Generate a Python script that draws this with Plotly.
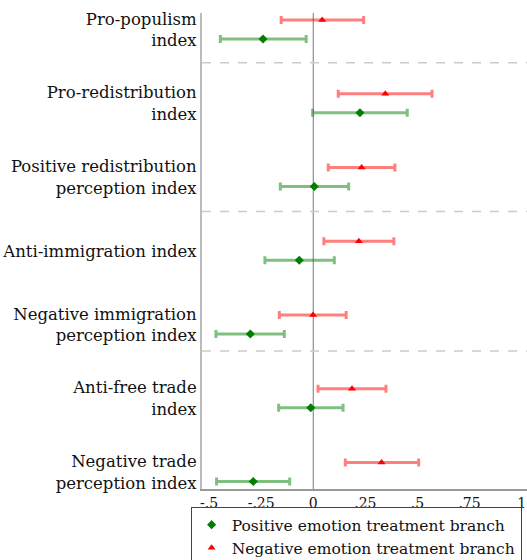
import plotly.graph_objects as go

categories = [
    "Pro-populism<br>index",
    "Pro-redistribution<br>index",
    "Positive redistribution<br>perception index",
    "Anti-immigration index",
    "Negative immigration<br>perception index",
    "Anti-free trade<br>index",
    "Negative trade<br>perception index",
]

neg_est = [0.043, 0.346, 0.232, 0.219, -0.001, 0.186, 0.328]
neg_lo = [-0.154, 0.120, 0.072, 0.051, -0.163, 0.023, 0.154]
neg_hi = [0.242, 0.570, 0.392, 0.387, 0.158, 0.349, 0.506]

pos_est = [-0.241, 0.224, 0.005, -0.067, -0.302, -0.012, -0.288]
pos_lo = [-0.446, -0.003, -0.158, -0.232, -0.467, -0.166, -0.464]
pos_hi = [-0.034, 0.451, 0.170, 0.101, -0.139, 0.143, -0.113]

x_ticks = [-0.5, -0.25, 0, 0.25, 0.5, 0.75, 1]
x_ticklabels = ["-.5", "-.25", "0", ".25", ".5", ".75", "1"]

FONT = "DejaVu Serif"
idx = list(range(1, len(categories) + 1))
off = 0.129

fig = go.Figure()
fig.add_trace(go.Scatter(
    x=pos_est, y=[i + off for i in idx], mode="markers",
    name="Positive emotion treatment branch",
    marker=dict(symbol="diamond", color="#007f00", size=7),
    error_x=dict(type="data", symmetric=False,
                 array=[h - e for h, e in zip(pos_hi, pos_est)],
                 arrayminus=[e - l for e, l in zip(pos_est, pos_lo)],
                 color="rgba(0,128,0,0.5)", thickness=3, width=4),
))
fig.add_trace(go.Scatter(
    x=neg_est, y=[i - off for i in idx], mode="markers",
    name="Negative emotion treatment branch",
    marker=dict(symbol="triangle-up", color="#ff0000", size=7),
    error_x=dict(type="data", symmetric=False,
                 array=[h - e for h, e in zip(neg_hi, neg_est)],
                 arrayminus=[e - l for e, l in zip(neg_est, neg_lo)],
                 color="rgba(255,0,0,0.5)", thickness=3, width=4),
))

shapes = [dict(type="line", xref="x", yref="paper", x0=0, x1=0, y0=0, y1=1,
               line=dict(color="#777777", width=1), layer="below")]
for ysep in [1.45, 3.467, 5.358]:
    shapes.append(dict(type="line", xref="paper", yref="y", x0=0, x1=1, y0=ysep, y1=ysep,
                       line=dict(color="#cccccc", width=1.5, dash="dash"), layer="below"))

fig.update_layout(
    width=527, height=560,
    margin=dict(l=202, r=0, t=13, b=71, autoexpand=False),
    plot_bgcolor="white", paper_bgcolor="white",
    font=dict(family=FONT, color="#111111"),
    showlegend=True,
    legend=dict(x=-0.035, y=-0.038, xanchor="left", yanchor="top",
                bordercolor="#444444", borderwidth=1,
                font=dict(size=15.5, family=FONT), itemwidth=30,
                tracegroupgap=0, bgcolor="white"),
    shapes=shapes,
    xaxis=dict(range=[-0.534, 1.026], tickvals=x_ticks, ticktext=x_ticklabels,
               showgrid=False, zeroline=False, showline=True, linecolor="#999999",
               linewidth=1.5, ticks="", automargin=False,
               tickfont=dict(size=14, family=FONT)),
    yaxis=dict(range=[7.23, 0.776], tickvals=idx, ticktext=categories,
               showgrid=False, zeroline=False, showline=True, linecolor="#bbbbbb",
               linewidth=2, ticks="", automargin=False, ticklabelstandoff=0,
               tickfont=dict(size=16.5, family=FONT)),
)

fig.write_html("out.html", config={"displayModeBar": False},
               post_script="document.body.style.margin='0';document.body.style.overflow='hidden';")
